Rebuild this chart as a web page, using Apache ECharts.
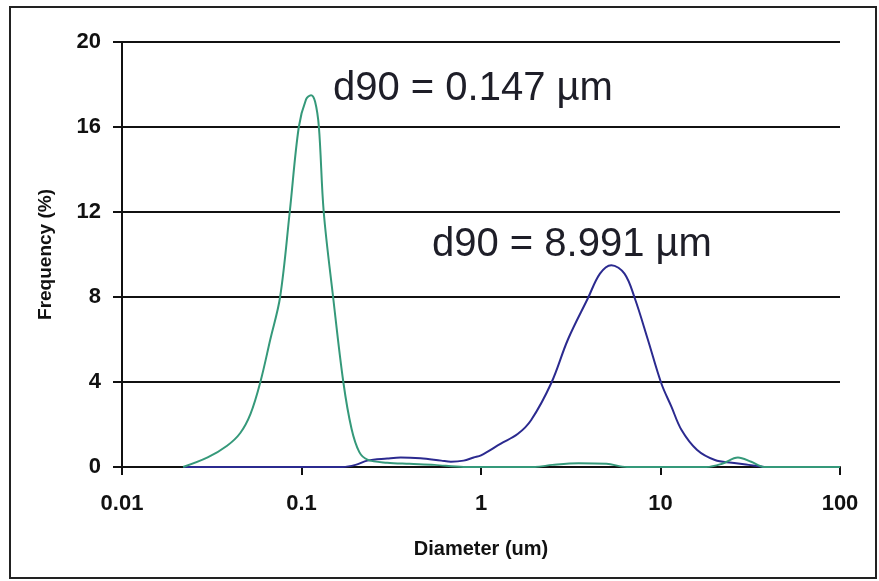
<!DOCTYPE html>
<html>
<head>
<meta charset="utf-8">
<script src="https://cdn.jsdelivr.net/npm/echarts@6/dist/echarts.min.js"></script>
<style>
  html, body { margin: 0; padding: 0; background: #fff; }
  #chart { width: 879px; height: 581px; }
</style>
</head>
<body>
<div id="chart"></div>
<script>
// Particle size distributions: diameter (µm) vs frequency (%)
const diameterTicks = [0.01, 0.1, 1, 10, 100];
const frequencyTicks = [0, 4, 8, 12, 16, 20];

// Fine fraction (d90 = 0.147 µm)
const fineDiameter = [0.0219, 0.03, 0.0385, 0.0456, 0.052, 0.059, 0.067, 0.076, 0.086, 0.0966, 0.106, 0.113, 0.119, 0.125, 0.133, 0.150, 0.171, 0.19, 0.21, 0.233, 0.3, 0.4, 0.55, 0.8, 2.0, 2.5, 3.5, 5.0, 6.5, 18, 22, 27, 32, 38, 100];
const fineFrequency = [0, 0.45, 1.0, 1.6, 2.5, 4.0, 6.0, 8.0, 12.0, 16.0, 17.3, 17.5, 17.2, 16.0, 12.0, 8.0, 4.0, 1.8, 0.7, 0.35, 0.2, 0.15, 0.1, 0, 0, 0.1, 0.18, 0.15, 0, 0, 0.15, 0.45, 0.25, 0, 0];

// Coarse fraction (d90 = 8.991 µm)
const coarseDiameter = [0.022, 0.17, 0.2, 0.233, 0.3, 0.357, 0.46, 0.6, 0.68, 0.8, 0.91, 1.0, 1.29, 1.6, 1.9, 2.46, 3.05, 3.94, 4.6, 5.32, 6.3, 7.19, 8.5, 10.1, 11.5, 13.1, 16, 20.1, 25, 31, 38];
const coarseFrequency = [0, 0, 0.1, 0.3, 0.4, 0.45, 0.41, 0.3, 0.25, 0.3, 0.45, 0.55, 1.1, 1.55, 2.2, 3.94, 6.0, 7.94, 9.1, 9.5, 9.1, 7.94, 6.0, 3.94, 2.84, 1.74, 0.8, 0.33, 0.2, 0.1, 0];

const annotationTexts = ['d90 = 0.147 µm', 'd90 = 8.991 µm'];

const pairs = (xs, ys) => xs.map((x, i) => [x, ys[i]]);
const FONT = '"Liberation Sans", Arial, sans-serif';

const chart = echarts.init(document.getElementById('chart'), null, { renderer: 'canvas' });
chart.setOption({
  animation: false,
  backgroundColor: '#fff',
  grid: { left: 122, right: 39, top: 42, bottom: 114 },
  xAxis: {
    type: 'log',
    logBase: 10,
    min: diameterTicks[0],
    max: diameterTicks[diameterTicks.length - 1],
    interval: 1,
    name: 'Diameter (um)',
    nameLocation: 'middle',
    nameGap: 72,
    nameTextStyle: { fontFamily: FONT, fontWeight: 'bold', fontSize: 20, color: '#111' },
    axisLine: { show: true, lineStyle: { color: '#111', width: 2 } },
    axisTick: { show: true, length: 8, lineStyle: { color: '#111', width: 2 } },
    minorTick: { show: false },
    splitLine: { show: false },
    axisLabel: {
      margin: 26,
      fontFamily: FONT, fontWeight: 'bold', fontSize: 22, color: '#111',
      formatter: v => String(v)
    }
  },
  yAxis: {
    type: 'value',
    min: frequencyTicks[0],
    max: frequencyTicks[frequencyTicks.length - 1],
    interval: 4,
    name: 'Frequency (%)',
    nameLocation: 'middle',
    nameGap: 67,
    nameTextStyle: { fontFamily: FONT, fontWeight: 'bold', fontSize: 19, color: '#111' },
    axisLine: { show: true, lineStyle: { color: '#111', width: 2 } },
    axisTick: { show: true, length: 9, lineStyle: { color: '#111', width: 2 } },
    splitLine: { show: true, lineStyle: { color: '#111', width: 2 } },
    axisLabel: {
      margin: 21,
      fontFamily: FONT, fontWeight: 'bold', fontSize: 22, color: '#111'
    }
  },
  series: [
    {
      name: 'coarse',
      type: 'line',
      data: pairs(coarseDiameter, coarseFrequency),
      smooth: 0.35,
      showSymbol: false,
      lineStyle: { color: '#2b2a8f', width: 2 },
      z: 3
    },
    {
      name: 'fine',
      type: 'line',
      data: pairs(fineDiameter, fineFrequency),
      smooth: 0.35,
      showSymbol: false,
      lineStyle: { color: '#35997a', width: 2 },
      z: 4
    }
  ],
  graphic: [
    {
      type: 'rect',
      shape: { x: 10, y: 7, width: 866, height: 571 },
      style: { fill: 'none', stroke: '#222', lineWidth: 2 },
      silent: true
    },
    {
      type: 'text',
      x: 333, y: 89,
      style: { text: annotationTexts[0], font: '40px ' + FONT, fill: '#1e1e28', verticalAlign: 'middle' }
    },
    {
      type: 'text',
      x: 432, y: 245,
      style: { text: annotationTexts[1], font: '40px ' + FONT, fill: '#1e1e28', verticalAlign: 'middle' }
    }
  ]
});
</script>
</body>
</html>
